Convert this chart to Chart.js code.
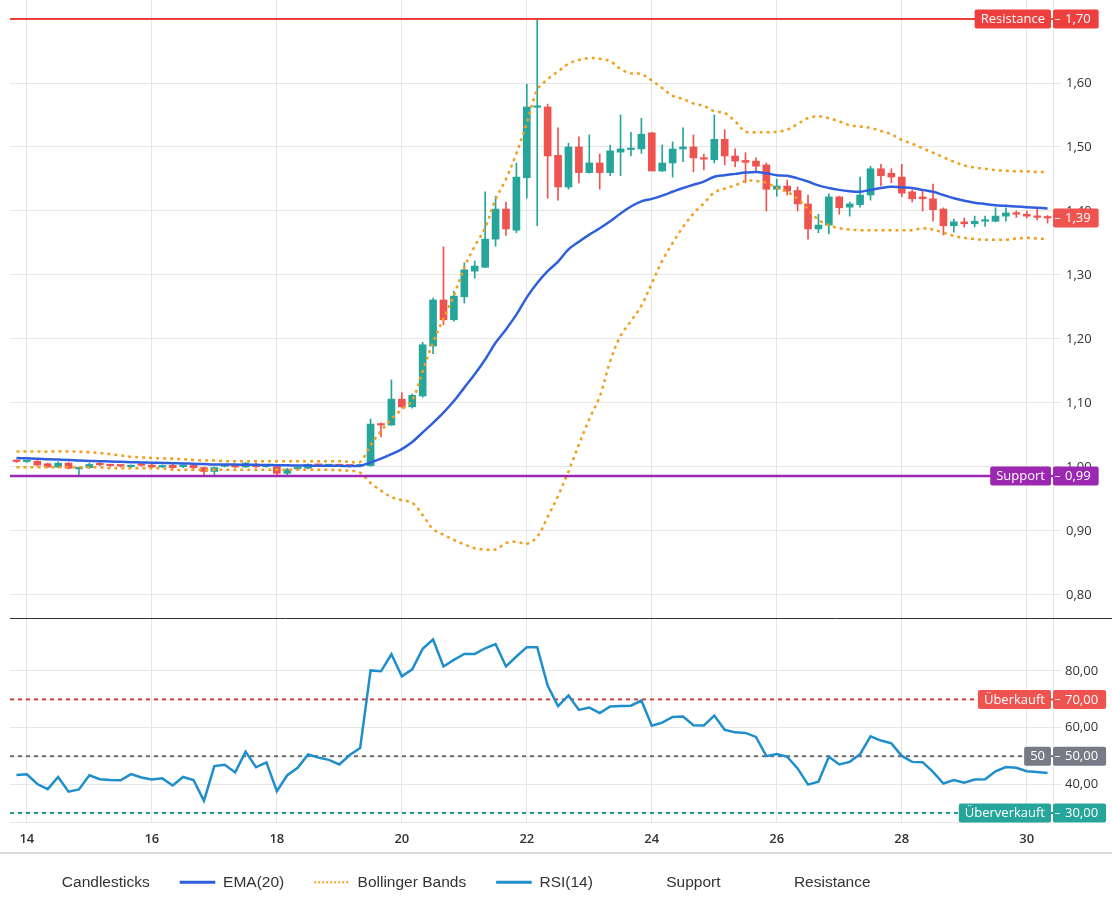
<!DOCTYPE html>
<html>
<head>
<meta charset="utf-8">
<script src="https://cdn.jsdelivr.net/npm/chart.js@4.4.1/dist/chart.umd.min.js"></script>
<style>
html,body{margin:0;padding:0;background:#fff;}
#wrap{width:1112px;height:899px;position:relative;}
</style>
</head>
<body>
<div id="wrap"><canvas id="c"></canvas></div>
<script>
// ---- time axis (4-hour candles, day-of-month units) ----
const firstCandleDay = 13 + 20 / 24;
const candleStepDays = 4 / 24;
const dayTicks = [14, 16, 18, 20, 22, 24, 26, 28, 30];
const priceTicks = [0.8, 0.9, 1.0, 1.1, 1.2, 1.3, 1.4, 1.5, 1.6, 1.7];
const rsiTicks = [30, 40, 50, 60, 70, 80];

// ---- OHLC ----
const opens = [
1.009,1.0085,1.009,1.005,1.000,1.006,0.997,0.999,1.0045,1.003,
1.002,1.0005,1.003,1.003,1.000,1.0025,1.0005,1.0025,0.999,0.993,
1.001,1.003,1.000,1.004,1.0005,1.0005,0.990,0.997,0.998,1.003,
1.002,1.0025,1.002,1.0015,1.002,1.067,1.0655,1.106,1.094,1.111,
1.189,1.261,1.230,1.266,1.306,1.312,1.356,1.403,1.370,1.452,
1.562,1.5625,1.487,1.4375,1.500,1.460,1.475,1.460,1.492,1.496,
1.497,1.522,1.4625,1.475,1.497,1.500,1.483,1.480,1.512,1.486,
1.479,1.478,1.472,1.434,1.439,1.432,1.411,1.372,1.378,1.422,
1.406,1.410,1.425,1.466,1.459,1.453,1.430,1.422,1.419,1.403,
1.377,1.383,1.380,1.384,1.384,1.392,1.397,1.395,1.392,1.390
];
const highs = [
1.011,1.0105,1.010,1.006,1.008,1.007,0.999,1.006,1.007,1.004,
1.003,1.003,1.005,1.004,1.003,1.004,1.003,1.004,1.000,1.000,
1.003,1.004,1.007,1.006,1.0025,1.001,0.998,1.000,1.005,1.004,
1.0035,1.0035,1.003,1.003,1.075,1.069,1.136,1.116,1.114,1.195,
1.264,1.344,1.275,1.319,1.322,1.430,1.423,1.414,1.475,1.598,
1.698,1.567,1.530,1.506,1.516,1.519,1.489,1.503,1.550,1.523,
1.545,1.523,1.503,1.508,1.530,1.519,1.489,1.550,1.527,1.497,
1.491,1.483,1.475,1.450,1.448,1.4375,1.425,1.395,1.427,1.423,
1.414,1.453,1.470,1.473,1.466,1.473,1.433,1.433,1.442,1.405,
1.3875,1.389,1.392,1.392,1.405,1.405,1.400,1.400,1.405,1.393
];
const lows = [
1.007,1.007,1.002,0.999,0.999,0.997,0.987,0.998,1.002,1.001,
1.000,0.999,1.001,0.999,0.999,0.997,0.999,0.997,0.9875,0.9875,
1.000,0.999,0.999,0.999,0.9995,0.988,0.988,0.995,0.997,1.001,
1.0005,1.001,1.000,1.000,1.001,1.047,1.065,1.092,1.092,1.109,
1.177,1.222,1.228,1.256,1.295,1.312,1.345,1.362,1.366,1.420,
1.377,1.420,1.417,1.434,1.444,1.459,1.434,1.455,1.455,1.486,
1.490,1.4625,1.462,1.453,1.477,1.461,1.464,1.475,1.472,1.469,
1.444,1.461,1.400,1.423,1.425,1.400,1.356,1.366,1.364,1.395,
1.392,1.406,1.417,1.439,1.444,1.422,1.414,1.400,1.384,1.3625,
1.367,1.375,1.375,1.376,1.383,1.384,1.390,1.389,1.386,1.381
];
const closes = [
1.0085,1.009,1.003,1.000,1.006,0.998,0.999,1.004,1.0035,1.002,
1.0015,1.002,1.0025,1.000,1.0012,0.999,1.002,0.999,0.993,0.999,
1.0015,1.000,1.006,1.0005,1.0015,0.990,0.996,0.999,1.004,1.0025,
1.0025,1.002,1.0015,1.002,1.067,1.0655,1.106,1.094,1.112,1.191,
1.261,1.230,1.267,1.308,1.314,1.356,1.403,1.372,1.453,1.5625,
1.5635,1.486,1.4375,1.500,1.460,1.475,1.460,1.494,1.497,1.497,
1.520,1.4625,1.475,1.497,1.500,1.483,1.481,1.512,1.486,1.478,
1.476,1.470,1.434,1.439,1.431,1.411,1.372,1.378,1.422,1.405,
1.411,1.425,1.466,1.455,1.453,1.428,1.419,1.419,1.402,1.377,
1.383,1.380,1.384,1.385,1.392,1.397,1.395,1.392,1.390,1.389
];

// ---- indicators ----
const ema20 = [
1.014,1.0135,1.013,1.012,1.0115,1.011,1.010,1.0095,1.009,1.0085,
1.008,1.0075,1.007,1.0067,1.0063,1.006,1.0055,1.005,1.0045,1.004,
1.004,1.0037,1.0035,1.0033,1.003,1.0028,1.0025,1.0023,1.0022,1.002,
1.002,1.0018,1.0015,1.002,1.007,1.013,1.020,1.028,1.039,1.054,
1.069,1.085,1.103,1.124,1.145,1.168,1.194,1.215,1.238,1.265,
1.2875,1.306,1.321,1.340,1.352,1.363,1.373,1.384,1.396,1.407,
1.415,1.419,1.424,1.430,1.436,1.441,1.446,1.4535,1.456,1.458,
1.460,1.461,1.459,1.456,1.455,1.451,1.446,1.440,1.436,1.433,
1.431,1.430,1.433,1.436,1.438,1.437,1.436,1.433,1.430,1.425,
1.420,1.416,1.413,1.411,1.409,1.408,1.407,1.406,1.405,1.404
];
const bbUpper = [
1.024,1.024,1.024,1.024,1.0245,1.024,1.024,1.023,1.022,1.020,
1.018,1.016,1.015,1.014,1.0135,1.013,1.012,1.011,1.010,1.010,
1.009,1.009,1.009,1.009,1.009,1.009,1.009,1.009,1.009,1.009,
1.009,1.009,1.008,1.008,1.034,1.056,1.075,1.090,1.104,1.150,
1.195,1.232,1.268,1.312,1.345,1.374,1.418,1.450,1.490,1.5375,
1.589,1.606,1.618,1.630,1.636,1.639,1.638,1.634,1.622,1.615,
1.614,1.604,1.592,1.580,1.575,1.568,1.564,1.556,1.553,1.540,
1.524,1.523,1.523,1.524,1.527,1.536,1.545,1.548,1.545,1.540,
1.534,1.532,1.530,1.525,1.520,1.511,1.505,1.498,1.491,1.484,
1.477,1.471,1.468,1.466,1.464,1.463,1.462,1.462,1.461,1.461
];
const bbLower = [
0.9995,0.9995,0.9995,0.9995,0.9995,0.9995,0.9995,0.9995,0.9995,0.998,
0.998,0.998,0.998,0.998,0.998,0.9955,0.9955,0.9955,0.9955,0.9955,
0.9955,0.9955,0.9955,0.9955,0.9955,0.9955,0.9955,0.9955,0.9955,0.9955,
0.9955,0.995,0.994,0.991,0.975,0.963,0.953,0.948,0.944,0.925,
0.903,0.894,0.886,0.879,0.873,0.871,0.871,0.881,0.883,0.880,
0.891,0.922,0.955,0.993,1.035,1.075,1.110,1.165,1.205,1.228,
1.252,1.287,1.322,1.350,1.375,1.396,1.412,1.429,1.435,1.440,
1.447,1.447,1.444,1.436,1.430,1.419,1.403,1.386,1.378,1.373,
1.371,1.370,1.370,1.370,1.370,1.370,1.370,1.373,1.371,1.366,
1.361,1.358,1.356,1.355,1.355,1.355,1.357,1.358,1.357,1.356
];
const rsi14 = [
43.4,43.6,40.2,38.4,42.7,37.5,38.3,43.3,41.9,41.6,
41.5,43.7,42.5,41.8,42.2,39.7,42.7,41.6,34.3,46.5,
47.0,44.3,51.6,46.1,47.8,37.7,43.3,45.9,50.6,49.5,
48.7,47.1,50.4,52.9,80.2,79.9,85.9,78.1,80.6,87.8,
91.1,81.6,83.9,86.0,86.0,88.0,89.5,81.6,85.1,88.4,
88.4,74.9,67.6,71.4,66.3,67.1,65.2,67.5,67.7,67.8,
69.6,60.7,61.8,63.8,64.0,60.9,60.8,64.3,59.3,58.4,
58.2,56.8,50.0,50.8,49.8,45.7,40.0,41.0,49.8,47.1,
48.0,50.7,57.0,55.5,54.5,50.1,48.0,47.9,44.5,40.4,
41.6,40.7,41.8,41.9,44.7,46.2,45.9,44.7,44.4,44.1
];

const resistanceLevel = 1.70;
const supportLevel = 0.986;
const rsiBandValues = [70, 50, 30];
const rsiBandNames = ['Überkauft', '50', 'Überverkauft'];

// ---- styles ----
const UP = '#26a69a', DOWN = '#ef5350';
const EMA_COLOR = '#2f5fdc', BB_COLOR = '#f0a020', RSI_COLOR = '#1f8fcb';
const RES_COLOR = '#ee3f3f', SUP_COLOR = '#9c27b0';
const GRID = '#e6e6e6';
const rsiBandLine = ['#c9443f', '#6e6e6e', '#2a9a8c'];
const rsiBandTag = ['#ef5350', '#787b86', '#26a69a'];
const xMin = 13.73, xMax = 30.42;

const times = opens.map((_, i) => firstCandleDay + i * candleStepDays);
const candleColors = closes.map((c, i) => (c >= opens[i] ? UP : DOWN));
const fmt2 = v => Number(v).toFixed(2).replace('.', ',');
const pts = arr => times.map((t, i) => ({x: t, y: arr[i]}));

const datasets = [
  {type: 'bar', label: 'Candlesticks', yAxisID: 'y', order: 10, grouped: false,
   data: times.map((t, i) => ({x: t, y: [opens[i], closes[i]]})),
   backgroundColor: candleColors, borderWidth: 0, barThickness: 7, minBarLength: 1.5},
  {type: 'bar', label: 'Wicks', yAxisID: 'y', order: 11, grouped: false,
   data: times.map((t, i) => ({x: t, y: [lows[i], highs[i]]})),
   backgroundColor: candleColors, borderWidth: 0, barThickness: 1},
  {type: 'line', label: 'EMA(20)', yAxisID: 'y', order: 1, data: pts(ema20),
   borderColor: EMA_COLOR, borderWidth: 2.5, pointRadius: 0, tension: 0.35, fill: false},
  {type: 'line', label: 'Bollinger Bands', yAxisID: 'y', order: 2, data: pts(bbUpper),
   borderColor: BB_COLOR, borderWidth: 2.5, borderDash: [3, 4], pointRadius: 0, tension: 0.35, fill: false},
  {type: 'line', label: 'Bollinger Lower', yAxisID: 'y', order: 2, data: pts(bbLower),
   borderColor: BB_COLOR, borderWidth: 2.5, borderDash: [3, 4], pointRadius: 0, tension: 0.35, fill: false},
  {type: 'line', label: 'RSI(14)', yAxisID: 'y2', order: 1, data: pts(rsi14),
   borderColor: RSI_COLOR, borderWidth: 2.5, pointRadius: 0, tension: 0, fill: false},
  {type: 'line', label: 'Support', yAxisID: 'y', order: 0,
   data: [{x: xMin, y: supportLevel}, {x: xMax, y: supportLevel}],
   borderColor: SUP_COLOR, borderWidth: 2.5, pointRadius: 0, fill: false},
  {type: 'line', label: 'Resistance', yAxisID: 'y', order: 0,
   data: [{x: xMin, y: resistanceLevel}, {x: xMax, y: resistanceLevel}],
   borderColor: RES_COLOR, borderWidth: 2, pointRadius: 0, fill: false}
];

const legendDefs = [
  {ds: 0, stroke: 'rgba(0,0,0,0)', width: 0, dash: []},
  {ds: 2, stroke: EMA_COLOR, width: 3, dash: []},
  {ds: 3, stroke: BB_COLOR, width: 2, dash: [2, 2]},
  {ds: 5, stroke: RSI_COLOR, width: 3, dash: []},
  {ds: 6, stroke: 'rgba(0,0,0,0)', width: 0, dash: []},
  {ds: 7, stroke: 'rgba(0,0,0,0)', width: 0, dash: []}
];

const TAG_FONT = "13px 'Open Sans', 'DejaVu Sans', sans-serif";
function roundRect(ctx, x, y, w, h, r) {
  ctx.beginPath();
  ctx.moveTo(x + r, y); ctx.lineTo(x + w - r, y); ctx.quadraticCurveTo(x + w, y, x + w, y + r);
  ctx.lineTo(x + w, y + h - r); ctx.quadraticCurveTo(x + w, y + h, x + w - r, y + h);
  ctx.lineTo(x + r, y + h); ctx.quadraticCurveTo(x, y + h, x, y + h - r);
  ctx.lineTo(x, y + r); ctx.quadraticCurveTo(x, y, x + r, y);
  ctx.closePath();
}
function drawTag(ctx, right, y, name, valueText, color) {
  const h = 19;
  ctx.font = TAG_FONT;
  ctx.textBaseline = 'middle';
  ctx.textAlign = 'left';
  const vw = ctx.measureText(valueText).width;
  ctx.fillStyle = color;
  roundRect(ctx, right, y - h / 2, vw + 20, h, 2); ctx.fill();
  ctx.fillStyle = '#fff';
  ctx.fillText(valueText, right + 12, y + 0.5);
  ctx.strokeStyle = 'rgba(255,255,255,0.85)'; ctx.lineWidth = 1; ctx.setLineDash([]);
  ctx.beginPath(); ctx.moveTo(right + 2, Math.round(y) + 0.5); ctx.lineTo(right + 7, Math.round(y) + 0.5); ctx.stroke();
  if (name) {
    const nw = ctx.measureText(name).width;
    const bw = nw + 12;
    ctx.fillStyle = color;
    roundRect(ctx, right - 2 - bw, y - h / 2, bw, h, 2); ctx.fill();
    ctx.fillStyle = '#fff';
    ctx.fillText(name, right - 2 - bw + 6, y + 0.5);
  }
}

const levelsPlugin = {
  id: 'levels',
  beforeDatasetsDraw(chart) {
    const {ctx, chartArea} = chart;
    const ys = chart.scales.y2;
    ctx.save();
    ctx.lineWidth = 2;
    ctx.setLineDash([4, 4]);
    rsiBandValues.forEach((v, k) => {
      const y = ys.getPixelForValue(v);
      ctx.strokeStyle = rsiBandLine[k];
      ctx.beginPath(); ctx.moveTo(chartArea.left, y); ctx.lineTo(chartArea.right, y); ctx.stroke();
    });
    ctx.restore();
  },
  afterDraw(chart) {
    const {ctx, chartArea} = chart;
    const yp = chart.scales.y, yr = chart.scales.y2;
    ctx.save();
    ctx.strokeStyle = '#333'; ctx.lineWidth = 1; ctx.setLineDash([]);
    const sy = Math.round(yp.bottom) + 0.5;
    ctx.beginPath(); ctx.moveTo(chartArea.left, sy); ctx.lineTo(chart.width, sy); ctx.stroke();
    ctx.strokeStyle = '#dadada'; ctx.lineWidth = 2;
    const by = chartArea.bottom + 31;
    ctx.beginPath(); ctx.moveTo(0, by); ctx.lineTo(chart.width, by); ctx.stroke();
    const right = chartArea.right;
    drawTag(ctx, right, yp.getPixelForValue(resistanceLevel), 'Resistance', fmt2(resistanceLevel), RES_COLOR);
    drawTag(ctx, right, yp.getPixelForValue(supportLevel), 'Support', fmt2(supportLevel), SUP_COLOR);
    const last = closes.length - 1;
    drawTag(ctx, right, yp.getPixelForValue(closes[last]), '', fmt2(closes[last]), candleColors[last]);
    rsiBandValues.forEach((v, k) => {
      drawTag(ctx, right, yr.getPixelForValue(v), rsiBandNames[k], fmt2(v), rsiBandTag[k]);
    });
    ctx.restore();
  }
};

const legendPlace = {
  id: 'legendPlace',
  afterLayout(chart) {
    const lg = chart.legend;
    if (!lg) return;
    const pad = lg.options.labels.padding;
    const dx = 18.5 - (lg.left + pad);
    lg.left += dx; lg.right += dx;
    const top = chart.chartArea.bottom + 22.5;
    lg.bottom = top + lg.height; lg.top = top;
  }
};

const noPad = s => { s.paddingTop = 0; s.paddingBottom = 0; s.paddingLeft = 0; s.paddingRight = 0; };

new Chart(document.getElementById('c'), {
  type: 'line',
  data: {datasets},
  options: {
    responsive: true,
    maintainAspectRatio: false,
    animation: false,
    devicePixelRatio: 1,
    layout: {padding: {left: 10, right: 0, top: 0, bottom: 0}},
    events: [],
    plugins: {
      tooltip: {enabled: false},
      legend: {
        position: 'bottom',
        align: 'start',
        labels: {
          usePointStyle: true,
          pointStyleWidth: 35.6,
          padding: 30,
          color: '#333',
          font: {family: "'Liberation Sans', Arial, sans-serif", size: 15.5},
          generateLabels: (chart) => legendDefs.map(d => ({
            text: chart.data.datasets[d.ds].label,
            fillStyle: d.stroke,
            strokeStyle: d.stroke,
            lineWidth: d.width,
            lineDash: d.dash,
            pointStyle: 'line',
            hidden: false,
            fontColor: '#333',
            datasetIndex: d.ds
          }))
        }
      }
    },
    scales: {
      x: {
        type: 'linear', min: xMin, max: xMax, offset: false,
        grid: {color: GRID, drawTicks: false, offset: false},
        border: {color: GRID},
        afterBuildTicks: s => { s.ticks = dayTicks.map(v => ({value: v})); },
        afterFit: s => { s.height = 21.5; noPad(s); },
        ticks: {padding: 9, color: '#333', maxRotation: 0,
          font: {family: "'Open Sans', sans-serif", size: 13, weight: '600'},
          callback: v => String(v)}
      },
      y: {
        type: 'linear', position: 'right', stack: 'panes', stackWeight: 618,
        min: 0.764, max: 1.7297,
        grid: {color: GRID, tickLength: 8},
        border: {color: GRID},
        afterBuildTicks: s => { s.ticks = priceTicks.map(v => ({value: v})); },
        afterFit: s => { s.width = 59; noPad(s); },
        ticks: {padding: 5, color: '#333', font: {family: "'Open Sans', sans-serif", size: 13}, callback: v => fmt2(v)}
      },
      y2: {
        type: 'linear', position: 'right', stack: 'panes', stackWeight: 204,
        min: 26.83, max: 98.66,
        grid: {color: GRID, tickLength: 8},
        border: {color: GRID},
        afterBuildTicks: s => { s.ticks = rsiTicks.map(v => ({value: v})); },
        afterFit: s => { s.width = 59; noPad(s); },
        ticks: {padding: 4, color: '#333', font: {family: "'Open Sans', sans-serif", size: 13}, callback: v => fmt2(v)}
      }
    }
  },
  plugins: [levelsPlugin, legendPlace]
});
</script>
</body>
</html>
